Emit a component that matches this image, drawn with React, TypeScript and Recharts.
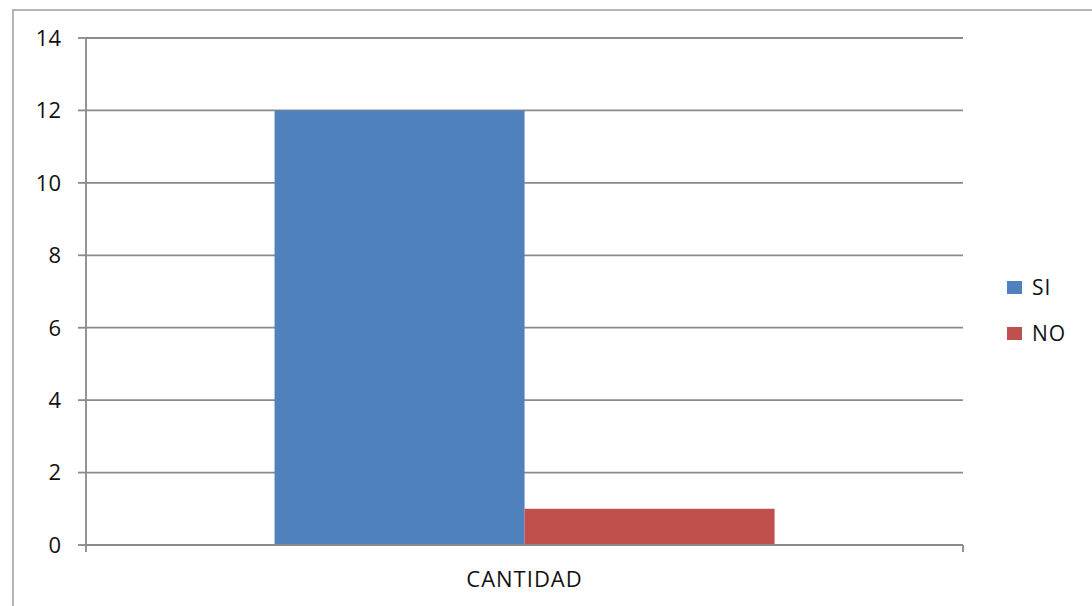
import { Bar, BarChart, CartesianGrid, Legend, XAxis, YAxis } from "recharts";

const categories = ["CANTIDAD"];
const seriesKeys = ["SI", "NO"];
const siValues = [12];
const noValues = [1];
const yTicks = [0, 2, 4, 6, 8, 10, 12, 14];

const data = categories.map((c, i) => ({ name: c, SI: siValues[i], NO: noValues[i] }));

const FONT = "'Open Sans', sans-serif";
const GRID = "#8a8a8a";
const COLORS: Record<string, string> = { SI: "#4F81BD", NO: "#C0504D" };

function CatTick(props: any) {
  const { x, y, payload } = props;
  const half = payload.offset || 0;
  return (
    <g>
      <line x1={x - half} x2={x - half} y1={y} y2={y + 7} stroke={GRID} strokeWidth={1.8} />
      <line x1={x + half} x2={x + half} y1={y} y2={y + 7} stroke={GRID} strokeWidth={1.8} />
      <text x={x} y={y + 42} textAnchor="middle" fill="#111" fontSize={22} letterSpacing={1} fontFamily={FONT}>
        {payload.value}
      </text>
    </g>
  );
}

function SideLegend(props: any) {
  const items = [...(props.payload || [])].sort(
    (a: any, b: any) => seriesKeys.indexOf(a.value) - seriesKeys.indexOf(b.value)
  );
  return (
    <div style={{ fontFamily: FONT, fontSize: 21, color: "#111" }}>
      {items.map((it: any) => (
        <div key={it.value} style={{ display: "flex", alignItems: "center", height: 46, whiteSpace: "nowrap" }}>
          <span
            style={{
              display: "inline-block",
              flex: "0 0 15px",
              width: 15,
              height: 13,
              background: COLORS[it.value] || it.color,
              marginRight: 10,
            }}
          />
          <span style={{ letterSpacing: 1 }}>{it.value}</span>
        </div>
      ))}
    </div>
  );
}

export default function App() {
  return (
    <div style={{ position: "absolute", left: 0, top: 0, width: 1092, height: 606, background: "#fff", overflow: "hidden" }}>
      <div
        style={{
          position: "absolute",
          left: 12,
          top: 9,
          width: 1100,
          height: 620,
          borderLeft: "2px solid #b5b5b5",
          borderTop: "2px solid #b5b5b5",
        }}
      />
      <div style={{ position: "absolute", left: 0, top: 0 }}>
        <BarChart
          width={1092}
          height={606}
          data={data}
          margin={{ top: 38, right: 129, left: 0, bottom: 0 }}
          barCategoryGap="21.5%"
          barGap={0}
        >
          <CartesianGrid horizontal vertical={false} stroke={GRID} strokeWidth={1.8} />
          <XAxis
            dataKey="name"
            height={61}
            tickLine={false}
            tickSize={0}
            tickMargin={0}
            axisLine={{ stroke: GRID, strokeWidth: 1.8 }}
            tick={<CatTick />}
          />
          <YAxis
            width={86}
            domain={[0, 14]}
            ticks={yTicks}
            interval={0}
            tickSize={8}
            tickMargin={17}
            tickLine={{ stroke: GRID, strokeWidth: 1.8 }}
            axisLine={{ stroke: GRID, strokeWidth: 1.8 }}
            tick={{ fill: "#111", fontSize: 22, fontFamily: FONT }}
          />
          <Legend
            layout="vertical"
            align="right"
            verticalAlign="top"
            content={<SideLegend />}
            wrapperStyle={{ position: "absolute", left: 1007, top: 264, width: 0, height: 0, overflow: "visible" }}
          />
          <Bar dataKey="SI" fill={COLORS.SI} isAnimationActive={false} />
          <Bar dataKey="NO" fill={COLORS.NO} isAnimationActive={false} />
        </BarChart>
      </div>
    </div>
  );
}
